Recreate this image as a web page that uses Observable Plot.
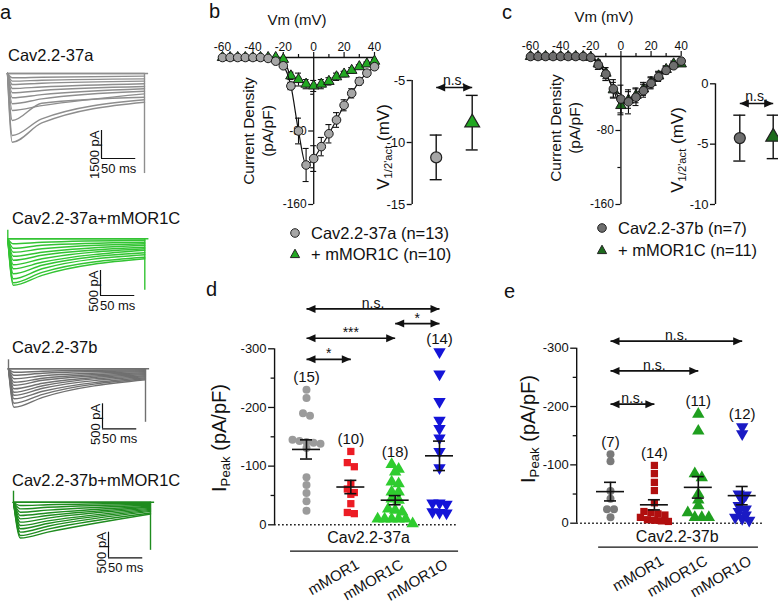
<!DOCTYPE html>
<html><head><meta charset="utf-8">
<script src="https://cdn.jsdelivr.net/npm/d3@7"></script>
<script src="https://cdn.jsdelivr.net/npm/@observablehq/plot@0.6"></script>
<style>
html,body{margin:0;padding:0;background:#fff;}
#root{position:relative;width:778px;height:602px;overflow:hidden;font-family:"Liberation Sans",Arial,Helvetica,sans-serif;color:#111;background:#fff;}
.t{position:absolute;white-space:nowrap;line-height:1;}
.t sub{font-size:0.66em;vertical-align:baseline;position:relative;top:0.3em;}
</style></head>
<body><div id="root"></div>
<script>
// ================= DATA =================
// Panel a: current traces (pA) read at onset peak, at 50 ms and at pulse end
const tr37aPeak = [0,-230,-410,-590,-800,-1030,-1300,-1620,-1980,-2520,-3320,-3680];
const tr37aMid  = [0,-200,-360,-520,-720,-910,-1130,-1360,-1720,-1590,-2430,-2650];
const tr37aEnd  = [0,-140,-290,-410,-550,-700,-820,-950,-1090,-1270,-1410,-1540];
const tr37aTail = -5360, tr37aSpike = 0;
const tr37aMorPeak = [0,-100,-190,-270,-350,-430,-520,-600,-700,-800,-880,-930];
const tr37aMorMid  = [0,-70,-130,-200,-270,-330,-400,-470,-530,-600,-670,-730];
const tr37aMorEnd  = [0,-30,-70,-100,-130,-170,-200,-230,-280,-320,-370,-400];
const tr37aMorTail = -1030, tr37aMorSpike = 170;
const tr37bPeak = [0,-70,-130,-200,-270,-330,-400,-470,-530,-600,-690,-770];
const tr37bMid  = [0,-50,-90,-140,-190,-230,-290,-340,-390,-450,-510,-570];
const tr37bEnd  = [0,-20,-40,-60,-80,-100,-120,-140,-160,-180,-200,-220];
const tr37bTail = -1070, tr37bSpike = 180;
const tr37bMorPeak = [0,-65,-130,-195,-260,-325,-390,-455,-520,-585,-650,-700];
const tr37bMorMid  = [0,-50,-100,-155,-210,-260,-310,-365,-415,-470,-525,-585];
const tr37bMorEnd  = [0,-20,-40,-60,-80,-100,-120,-140,-160,-180,-210,-230];
const tr37bMorTail = -940, tr37bMorSpike = 215;

// Panels b, c: I-V relationships (mean, SEM; pA/pF)
const vm = [-60,-55,-50,-45,-40,-35,-30,-25,-20,-15,-10,-5,0,5,10,15,20,25,30,35,40];
const iv37aMean    = [0,0,0,0,0,0,-1,-4,-9,-31,-80,-117,-110,-97,-83,-68,-52,-39,-26,-17,-10];
const iv37aSem     = [0,0,0,0,0,0,0,1,2,4,14,18,14,10,10,8,6,5,4,3,3];
const iv37aMorMean = [0,0,0,0,0,0,0,0,-2,-20,-24,-29,-31,-29,-26,-21,-18,-14,-10,-7,-4];
const iv37aMorSem  = [0,0,0,0,0,0,0,0,1,4,7,5,6,5,4,4,3,3,2,2,2];
const iv37bMean    = [0,0,0,0,0,0,0,0,-1,-9,-19,-35,-46,-49,-44,-37,-29,-22,-15,-10,-5];
const iv37bSem     = [0,0,0,0,0,0,0,0,1,5,7,10,15,13,9,7,6,5,4,3,2];
const iv37bMorMean = [0,0,0,0,0,0,0,0,-1,-8,-18,-36,-53,-47,-42,-35,-28,-21,-14,-8,-8];
const iv37bMorSem  = [0,0,0,0,0,0,0,0,1,4,6,8,10,9,8,7,6,5,4,3,2];
const ivXTicks = [-60,-40,-20,0,20,40], ivXMinor = [-50,-30,-10,10,30];
const ivYTicks = [-80,-160], ivYMinor = [-40,-120];

// V1/2 act (mV): [Cav2.2, + mMOR1C]
const vHalf37aMean = [-11.2, -8.4], vHalf37aSem = [1.8, 2.2];
const vHalf37bMean = [-4.5, -4.4],  vHalf37bSem = [1.9, 1.8];
const vHalf37aTicks = [-5,-10,-15], vHalf37bTicks = [0,-5,-10];

// Panels d, e: peak current density (pA/pF)
const groupLabels = ["", "mMOR1", "mMOR1C", "mMOR1O"];
const d37aCtrl  = [-230,-216,-190,-186,-145,-143,-141,-140,-138,-131,-81,-68,-54,-40,-24];
const d37aMor1  = [-125,-106,-99,-70,-61,-55,-52,-36,-21,-19];
const d37aMor1C = [-103,-95,-90,-73,-70,-56,-56,-44,-42,-27,-25,-22,-10,-10,-10,-10,-10,-2];
const d37aMor1O = [-295,-257,-210,-178,-164,-148,-125,-97,-37,-37,-35,-22,-21,-20];
const e37bCtrl  = [-118,-106,-55,-42,-24,-24,-10];
const e37bMor1  = [-99,-85,-70,-56,-35,-20,-18,-16,-14,-10,-6,-5,-4,-3];
const e37bMor1C = [-187,-158,-85,-78,-50,-40,-30,-18,-10,-10,-10];
const e37bMor1O = [-165,-153,-50,-48,-40,-30,-24,-20,-14,-10,-8,-5];
const scatYTicks = [0,-100,-200,-300], scatYMinor = [-50,-150,-250];
const d37aSig = [
  {from: 0, to: 3, label: "n.s.", y: -368},
  {from: 2, to: 3, label: "*",    y: -343},
  {from: 0, to: 2, label: "***",  y: -318},
  {from: 0, to: 1, label: "*",    y: -282}
];
const e37bSig = [
  {from: 0, to: 3, label: "n.s.", y: -312},
  {from: 0, to: 2, label: "n.s.", y: -261},
  {from: 0, to: 1, label: "n.s.", y: -204}
];

// ================= HELPERS =================
const FONT = '"Liberation Sans", Arial, Helvetica, sans-serif';
const root = document.getElementById("root");

function mount(marks, x, y) {
  const svg = Plot.plot({
    width: 778, height: 602, margin: 0,
    x: {type: "linear", domain: x.domain, range: x.range, axis: null},
    y: {type: "linear", domain: y.domain, range: y.range, axis: null},
    style: {fontFamily: FONT, fontSize: "12px", color: "#111", background: "none", overflow: "visible"},
    marks
  });
  svg.style.position = "absolute"; svg.style.left = "0px"; svg.style.top = "0px";
  root.appendChild(svg);
}
function label(html, x, y, o = {}) {
  const el = document.createElement("div");
  el.className = "t";
  el.innerHTML = html;
  el.style.left = x + "px"; el.style.top = y + "px";
  el.style.fontSize = (o.size || 14) + "px";
  if (o.lh) el.style.lineHeight = o.lh;
  if (o.align) el.style.textAlign = o.align;
  const tx = o.anchor === "start" ? "0" : o.anchor === "end" ? "-100%" : "-50%";
  el.style.transform = `translate(${tx},-50%)` + (o.rot ? ` rotate(${o.rot}deg)` : "");
  root.appendChild(el);
}
const triDown = {draw(ctx, size) {
  const y = -Math.sqrt(size / (Math.sqrt(3) * 3));
  ctx.moveTo(0, -y * 2); ctx.lineTo(-Math.sqrt(3) * y, y); ctx.lineTo(Math.sqrt(3) * y, y); ctx.closePath();
}};
const headR = {draw(ctx) { ctx.moveTo(4.5, 0); ctx.lineTo(-4.5, -4); ctx.lineTo(-4.5, 4); ctx.closePath(); }};
const headL = {draw(ctx) { ctx.moveTo(-4.5, 0); ctx.lineTo(4.5, -4); ctx.lineTo(4.5, 4); ctx.closePath(); }};

// ================= PANEL a: traces =================
function tracePanel(c) {
  const sx = (c.xr[1] - c.xr[0]) / 200;
  const sy = (c.yr[1] - c.yr[0]) / (-c.yDom);
  const rows = [];
  c.peaks.forEach((pk, k) => {
    rows.push({k, t: 0, v: 0}, {k, t: c.tPeak, v: pk}, {k, t: 50, v: c.mids[k]}, {k, t: 200, v: c.ends[k]});
  });
  const bt = (c.bar[0] - c.xr[0]) / sx, bv = -(c.bar[1] - c.yr[0]) / sy;
  mount([
    Plot.ruleY([0], {x1: 0, x2: 206, stroke: c.color, strokeWidth: 1.5}),
    Plot.ruleX([0], {y1: 0, y2: c.spike, stroke: c.color, strokeWidth: 1.4}),
    Plot.line(rows, {x: "t", y: "v", z: "k", curve: "monotone-x", stroke: c.color, strokeWidth: 1.4}),
    Plot.ruleX([200], {y1: 0, y2: c.tail, stroke: c.color, strokeWidth: 1.4}),
    Plot.ruleX([bt], {y1: bv, y2: bv + c.barPA, stroke: "#111", strokeWidth: 1.2}),
    Plot.ruleY([bv], {x1: bt, x2: bt + 50, stroke: "#111", strokeWidth: 1.2}),
    Plot.text([c.barPA + " pA"], {x: bt - 3 / sx, y: bv + c.barPA, rotate: -90, textAnchor: "end", lineAnchor: "bottom", fontSize: 13}),
    Plot.text(["50 ms"], {x: bt + 25, y: bv, dy: 5, lineAnchor: "top", fontSize: 13})
  ], {domain: [0, 200], range: c.xr}, {domain: [0, c.yDom], range: c.yr});
}
tracePanel({xr: [7, 144], yr: [73, 101], yDom: -1500, peaks: tr37aPeak, mids: tr37aMid, ends: tr37aEnd,
  tail: tr37aTail, spike: tr37aSpike, tPeak: 7, color: "#8e8e8e", bar: [101, 158], barPA: 1500});
tracePanel({xr: [7.3, 144.3], yr: [238.3, 263.3], yDom: -500, peaks: tr37aMorPeak, mids: tr37aMorMid, ends: tr37aMorEnd,
  tail: tr37aMorTail, spike: tr37aMorSpike, tPeak: 8, color: "#33c433", bar: [100, 295], barPA: 500});
tracePanel({xr: [8, 145], yr: [368.3, 393.3], yDom: -500, peaks: tr37bPeak, mids: tr37bMid, ends: tr37bEnd,
  tail: tr37bTail, spike: tr37bSpike, tPeak: 8, color: "#707070", bar: [102, 428.3], barPA: 500});
tracePanel({xr: [13, 150], yr: [501.7, 527.3], yDom: -500, peaks: tr37bMorPeak, mids: tr37bMorMid, ends: tr37bMorEnd,
  tail: tr37bMorTail, spike: tr37bMorSpike, tPeak: 10, color: "#1f8c1f", bar: [108, 557.3], barPA: 500});

// ================= PANELS b, c: I-V =================
function ivPanel(c) {
  const sx = (c.xr[1] - c.xr[0]) / 100, sy = (c.yr[1] - c.yr[0]) / 160;
  const ux = px => px / sx, uy = px => px / sy;
  const mk = (m, s) => vm.map((v, i) => ({v, m: m[i], s: s[i]}));
  const A = mk(c.ctrlM, c.ctrlS), B = mk(c.morM, c.morS);
  const ser = (D, symbol, fill, r) => {
    const E = D.filter(d => d.s > 0);
    return [
      Plot.ruleX(E, {x: "v", y1: d => d.m - d.s, y2: d => d.m + d.s, stroke: "#111", strokeWidth: 1.1}),
      Plot.ruleY(E, {y: d => d.m - d.s, x1: d => d.v - ux(3), x2: d => d.v + ux(3), stroke: "#111", strokeWidth: 1.1}),
      Plot.ruleY(E, {y: d => d.m + d.s, x1: d => d.v - ux(3), x2: d => d.v + ux(3), stroke: "#111", strokeWidth: 1.1}),
      Plot.line(D, {x: "v", y: "m", curve: "monotone-x", stroke: "#111", strokeWidth: 1.2}),
      Plot.dot(D, {x: "v", y: "m", symbol, r, fill, stroke: "#1a1a1a", strokeWidth: 1})
    ];
  };
  mount([
    Plot.ruleY([0], {x1: -60, x2: 40, stroke: "#111", strokeWidth: 1.3}),
    Plot.ruleX([0], {y1: 0, y2: -160, stroke: "#111", strokeWidth: 1.3}),
    Plot.ruleX(ivXTicks, {x: d => d, y1: 0, y2: uy(5), strokeWidth: 1.2}),
    Plot.ruleX(ivXMinor, {x: d => d, y1: 0, y2: uy(3), strokeWidth: 1.2}),
    Plot.text(ivXTicks, {x: d => d, y: uy(7), lineAnchor: "bottom", text: d => String(d), fontSize: 12}),
    Plot.ruleY(ivYTicks, {y: d => d, x1: -ux(5), x2: 0, strokeWidth: 1.2}),
    Plot.ruleY(ivYMinor, {y: d => d, x1: -ux(3), x2: 0, strokeWidth: 1.2}),
    Plot.text(ivYTicks, {x: -ux(7), y: d => d, textAnchor: "end", text: d => String(d), fontSize: 12}),
    ...ser(B, "triangle", c.morFill, 3.9),
    ...ser(A, "circle", c.ctrlFill, 4.3)
  ], {domain: [-60, 40], range: c.xr}, {domain: [0, -160], range: c.yr});
}
ivPanel({xr: [222, 374], yr: [57, 204], ctrlM: iv37aMean, ctrlS: iv37aSem, morM: iv37aMorMean, morS: iv37aMorSem,
  ctrlFill: "#a6a6a6", morFill: "#22a822"});
ivPanel({xr: [530, 680.7], yr: [56, 204], ctrlM: iv37bMean, ctrlS: iv37bSem, morM: iv37bMorMean, morS: iv37bMorSem,
  ctrlFill: "#6e6e6e", morFill: "#1d6b1d"});

// ================= V1/2 panels =================
function vPanel(c) {
  const sx = (c.xr[1] - c.xr[0]), sy = (c.yr[1] - c.yr[0]) / (c.yd[0] - c.yd[1]);
  const ux = px => px / sx;
  const D = [0, 1].map(i => ({i, m: c.mean[i], s: c.sem[i]}));
  mount([
    Plot.ruleX([c.ax], {y1: c.yd[0], y2: c.yd[1], strokeWidth: 1.4}),
    Plot.ruleY(c.ticks, {y: d => d, x1: c.ax - ux(5), x2: c.ax, strokeWidth: 1.3}),
    Plot.text(c.ticks, {x: c.ax - ux(7), y: d => d, textAnchor: "end", text: d => String(d), fontSize: 13}),
    Plot.ruleX(D, {x: "i", y1: d => d.m - d.s, y2: d => d.m + d.s, strokeWidth: 1.4}),
    Plot.ruleY(D, {y: d => d.m - d.s, x1: d => d.i - ux(6), x2: d => d.i + ux(6), strokeWidth: 1.4}),
    Plot.ruleY(D, {y: d => d.m + d.s, x1: d => d.i - ux(6), x2: d => d.i + ux(6), strokeWidth: 1.4}),
    Plot.dot(D.slice(0, 1), {x: "i", y: "m", symbol: "circle", r: 5.5, fill: c.fills[0], stroke: "#222", strokeWidth: 1.2}),
    Plot.dot(D.slice(1), {x: "i", y: "m", symbol: "triangle", r: 5.5, fill: c.fills[1], stroke: "#222", strokeWidth: 1.2}),
    Plot.link([c.sigY], {x1: 0, x2: 1, y1: d => d, y2: d => d, strokeWidth: 1.6}),
    Plot.dot([c.sigY], {x: 1, y: d => d, symbol: headR, dx: -4.5, fill: "#111", stroke: "none"}),
    Plot.dot([c.sigY], {x: 0, y: d => d, symbol: headL, dx: 4.5, fill: "#111", stroke: "none"}),
    Plot.text(["n.s."], {x: 0.5, y: c.sigY, dy: -2, lineAnchor: "bottom", fontSize: 14})
  ], {domain: [0, 1], range: c.xr}, {domain: c.yd, range: c.yr});
}
vPanel({xr: [435.7, 471.7], yr: [80, 204], yd: [-5, -15], ax: -0.667, ticks: vHalf37aTicks,
  mean: vHalf37aMean, sem: vHalf37aSem, sigY: -5.56, fills: ["#a6a6a6", "#22a822"]});
vPanel({xr: [739.3, 772.7], yr: [83.3, 204], yd: [0, -10], ax: -0.728, ticks: vHalf37bTicks,
  mean: vHalf37bMean, sem: vHalf37bSem, sigY: -1.63, fills: ["#6e6e6e", "#1d6b1d"]});

// ================= PANELS d, e: scatter =================
function rowOffsets(vals, pxU, thr, step) {
  const order = vals.map((_, i) => i).sort((a, b) => vals[a] - vals[b]);
  const off = new Array(vals.length);
  let cur = [];
  const flush = () => { cur.forEach((i, j) => off[i] = (j - (cur.length - 1) / 2) * step); cur = []; };
  for (const i of order) {
    if (cur.length && Math.abs(vals[i] - vals[cur[0]]) * pxU > thr) flush();
    cur.push(i);
  }
  flush();
  return off;
}
function scatterPanel(c) {
  const pxIdx = (c.xr[1] - c.xr[0]) / 3, pxU = (c.yr[0] - c.yr[1]) / 300;
  const ux = px => px / pxIdx;
  const marks = [
    Plot.ruleY([0], {x1: c.ax, x2: c.zeroEnd, strokeDasharray: "1.6,2.4", strokeWidth: 1.5}),
    Plot.ruleX([c.ax], {y1: 0, y2: -300, strokeWidth: 1.4}),
    Plot.ruleY(scatYTicks, {y: d => d, x1: c.ax - ux(6), x2: c.ax, strokeWidth: 1.3}),
    Plot.ruleY(scatYMinor, {y: d => d, x1: c.ax - ux(3.5), x2: c.ax, strokeWidth: 1.3}),
    Plot.text(scatYTicks, {x: c.ax - ux(8), y: d => d, textAnchor: "end", text: d => String(d), fontSize: 13})
  ];
  const stats = [];
  c.groups.forEach((vals, g) => {
    const off = rowOffsets(vals, pxU, 5, 7);
    const pts = vals.map((v, j) => ({v, x: g + ux(off[j])}));
    const r = c.symbols[g] === "circle" ? 4 : c.symbols[g] === "square" ? 4.1 : 4.6;
    marks.push(Plot.dot(pts, {x: "x", y: "v", symbol: c.symbols[g], r, fill: c.colors[g], stroke: "none"}));
    stats.push({g, m: d3.mean(vals), s: d3.deviation(vals) / Math.sqrt(vals.length), top: d3.min(vals), n: vals.length});
  });
  marks.push(
    Plot.ruleY(stats, {y: "m", x1: d => d.g - ux(14), x2: d => d.g + ux(14), strokeWidth: 1.6}),
    Plot.ruleX(stats, {x: "g", y1: d => d.m - d.s, y2: d => d.m + d.s, strokeWidth: 1.6}),
    Plot.ruleY(stats, {y: d => d.m - d.s, x1: d => d.g - ux(6), x2: d => d.g + ux(6), strokeWidth: 1.6}),
    Plot.ruleY(stats, {y: d => d.m + d.s, x1: d => d.g - ux(6), x2: d => d.g + ux(6), strokeWidth: 1.6}),
    Plot.text(stats, {x: "g", y: "top", dy: -12.5, text: d => `(${d.n})`, fontSize: 15}),
    Plot.link(c.sig, {x1: "from", x2: "to", y1: "y", y2: "y", strokeWidth: 1.7}),
    Plot.dot(c.sig, {x: "to", y: "y", symbol: headR, dx: -4.5, fill: "#111", stroke: "none"}),
    Plot.dot(c.sig, {x: "from", y: "y", symbol: headL, dx: 4.5, fill: "#111", stroke: "none"}),
    Plot.text(c.sig, {x: d => (d.from + d.to) / 2, y: "y", text: "label", dy: -1, lineAnchor: "bottom", fontSize: 14}),
    Plot.ruleY([c.underY], {x1: c.under[0], x2: c.under[1], strokeWidth: 1.3}),
    Plot.text([c.name], {x: c.nameX, y: c.nameY, fontSize: 16}),
    Plot.text(groupLabels.map((t, g) => ({t, g})).filter(d => d.t), {x: d => d.g + ux(c.labDx), y: c.labY, text: "t",
      rotate: -30, textAnchor: "end", lineAnchor: "top", fontSize: 15})
  );
  mount(marks, {domain: [0, 3], range: c.xr}, {domain: [0, -300], range: c.yr});
}
scatterPanel({xr: [306, 439], yr: [524.3, 348.3], ax: -0.72, zeroEnd: 3.43,
  groups: [d37aCtrl, d37aMor1, d37aMor1C, d37aMor1O],
  colors: ["#9b9b9b", "#ec1c24", "#2fcc2f", "#1414d8"],
  symbols: ["circle", "square", "triangle", triDown],
  sig: d37aSig, under: [-0.36, 3.43], underY: 45, name: "Cav2.2-37a", nameX: 1.4, nameY: 23, labY: 57, labDx: 4});
scatterPanel({xr: [610, 741.7], yr: [522.7, 347.7], ax: -0.77, zeroEnd: 3.49,
  groups: [e37bCtrl, e37bMor1, e37bMor1C, e37bMor1O],
  colors: ["#7a7a7a", "#b10f0f", "#1f9f1f", "#1a1ac4"],
  symbols: ["circle", "square", "triangle", triDown],
  sig: e37bSig, under: [-0.27, 3.37], underY: 41, name: "Cav2.2-37b", nameX: 1.52, nameY: 24, labY: 54, labDx: 5});

// ================= TEXT LABELS =================
const L = 20;
label("a", 0, 12, {size: L, anchor: "start"});
label("b", 209, 11, {size: L, anchor: "start"});
label("c", 502, 12, {size: L, anchor: "start"});
label("d", 206, 289, {size: L, anchor: "start"});
label("e", 504, 291, {size: L, anchor: "start"});

label("Cav2.2-37a", 8, 55, {size: 16.5, anchor: "start"});
label("Cav2.2-37a+mMOR1C", 12, 218, {size: 16.5, anchor: "start"});
label("Cav2.2-37b", 12, 347, {size: 16.5, anchor: "start"});
label("Cav2.2-37b+mMOR1C", 12, 480, {size: 16.5, anchor: "start"});

label("Vm (mV)", 297, 19, {size: 15});
label("Vm (mV)", 604, 16, {size: 15});
label("Current Density<br>(pA/pF)", 259, 131, {size: 15.5, rot: -90, align: "center", lh: "1.2"});
label("Current Density<br>(pA/pF)", 566, 128, {size: 15.5, rot: -90, align: "center", lh: "1.2"});
label("V<sub>1/2'act</sub> (mV)", 383, 147, {size: 17, rot: -90});
label("V<sub>1/2'act</sub> (mV)", 677, 150, {size: 17, rot: -90});
label("I<sub>Peak</sub> (pA/pF)", 219, 438, {size: 20, rot: -90});
label("I<sub>Peak</sub> (pA/pF)", 528, 429, {size: 20, rot: -90});

function legend(mx, tx, y, marker, text) {
  const m = document.createElement("div");
  m.className = "t";
  m.style.left = (mx - 7) + "px"; m.style.top = (y - 7) + "px";
  m.innerHTML = `<svg width="14" height="14" style="display:block">${marker}</svg>`;
  root.appendChild(m);
  label(text, tx, y, {size: 16.5, anchor: "start"});
}
const circ = f => `<circle cx="7" cy="7" r="4.3" fill="${f}" stroke="#222" stroke-width="1"/>`;
const tri = f => `<polygon points="7,2.2 11.6,10.6 2.4,10.6" fill="${f}" stroke="#222" stroke-width="1"/>`;
legend(295, 311, 233, circ("#a6a6a6"), "Cav2.2-37a (n=13)");
legend(295, 311, 254, tri("#22a822"), "+ mMOR1C (n=10)");
legend(602, 618, 228, circ("#6e6e6e"), "Cav2.2-37b (n=7)");
legend(602, 618, 250, tri("#1d6b1d"), "+ mMOR1C (n=11)");
</script></body></html>
